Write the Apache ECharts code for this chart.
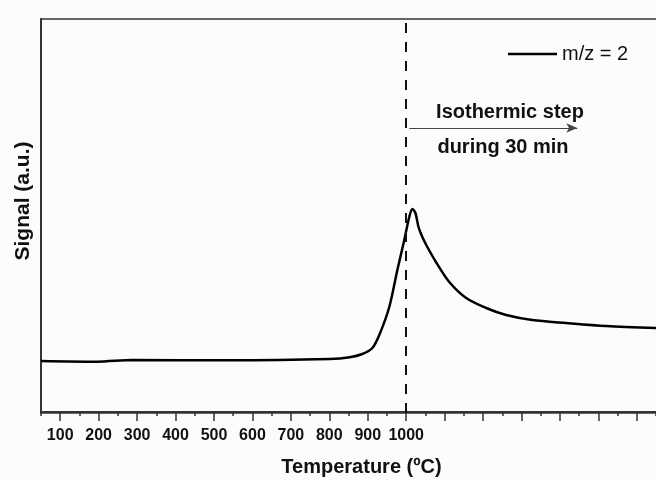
<!DOCTYPE html>
<html>
<head>
<meta charset="utf-8">
<script src="https://cdn.jsdelivr.net/npm/echarts@6/dist/echarts.min.js"></script>
<style>
  html, body { margin: 0; padding: 0; background: #fcfcfc; }
  #main { width: 656px; height: 480px; }
</style>
</head>
<body>
<div id="main"></div>
<script>
'use strict'
// values (signal in arbitrary units)
var temps = [50, 195, 289, 541, 801, 853, 886, 912, 930, 956, 977, 995, 1008, 1016, 1024, 1032, 1042, 1055, 1079, 1112, 1156, 1208, 1260, 1328, 1416, 1520, 1655]
var signal = [51, 50.3, 52, 51.7, 53, 54.7, 58, 64, 77, 105, 142, 172, 195, 203, 199, 185, 175, 165, 149, 130, 114, 104, 97, 92, 89, 86, 84]
var tickLabels = [100, 200, 300, 400, 500, 600, 700, 800, 900, 1000]
var majorTicks = [100, 200, 300, 400, 500, 600, 700, 800, 900, 1000, 1100, 1200, 1300, 1400, 1500, 1600]
var isoStart = 1000
var arrowFrom = 1008, arrowTo = 1445, arrowLevel = 284

var font = 'Liberation Sans, Arial, sans-serif'
var points = []
for (var i = 0; i < temps.length; i++) {
    points.push([temps[i], signal[i]])
}

var myChart = echarts.init(document.getElementById('main'))
var option = {
    backgroundColor: '#fcfcfc',
    animation: false,
    grid: {
        left: 41, right: -2, top: 19, bottom: 67, outerBoundsMode: 'none',
        show: true, borderColor: '#333', borderWidth: 1.5
    },
    legend: {
        left: 508, top: 44, padding: 0,
        itemWidth: 49, itemHeight: 2.5, itemGap: 5,
        textStyle: { fontFamily: font, fontSize: 20, color: '#111' },
        data: [{ name: 'm/z = 2', icon: 'rect' }]
    },
    xAxis: [
        {
            type: 'value', min: 50, max: 1655, interval: 50,
            name: 'Temperature (ºC)', nameLocation: 'middle', nameGap: 44,
            nameTextStyle: { fontFamily: font, fontSize: 20, fontWeight: 'bold', color: '#111', padding: [0, 0, 0, 24] },
            axisLine: { lineStyle: { color: '#333', width: 2 } },
            axisTick: { length: 4, lineStyle: { color: '#333', width: 1.5 } },
            axisLabel: {
                margin: 15, fontFamily: font, fontSize: 16, fontWeight: 'bold', color: '#111',
                formatter: function (v) { return tickLabels.indexOf(v) >= 0 ? String(v) : '' }
            },
            splitLine: { show: false }
        },
        {
            type: 'value', min: 50, max: 1655, position: 'bottom',
            axisLine: { show: false },
            axisTick: { length: 8, customValues: majorTicks, lineStyle: { color: '#333', width: 1.5 } },
            axisLabel: { show: false },
            splitLine: { show: false }
        }
    ],
    yAxis: {
        type: 'value', min: -1, max: 393,
        name: 'Signal (a.u.)', nameLocation: 'middle', nameGap: 7,
        nameTextStyle: { fontFamily: font, fontSize: 21, fontWeight: 'bold', color: '#111', padding: [0, 0, 0, 30] },
        axisLine: { show: true, lineStyle: { color: '#333', width: 2 } },
        axisTick: { show: false },
        axisLabel: { show: false },
        splitLine: { show: false }
    },
    series: [
        {
            name: 'm/z = 2', type: 'line', data: points,
            smooth: 0.3, symbol: 'none',
            lineStyle: { color: '#000', width: 2.5 },
            itemStyle: { color: '#000' },
            markLine: {
                silent: true, symbol: 'none', animation: false,
                label: { show: false },
                data: [
                    { xAxis: isoStart, lineStyle: { color: '#111', width: 2, type: [10, 9] } },
                    [
                        { coord: [arrowFrom, arrowLevel], symbol: 'none' },
                        { coord: [arrowTo, arrowLevel], symbol: 'arrow', symbolSize: [7, 11], lineStyle: { color: '#444', width: 1, type: 'solid' } }
                    ]
                ]
            }
        }
    ],
    graphic: [
        { type: 'text', x: 510, y: 112, style: { text: 'Isothermic step', font: 'bold 20px ' + font, fill: '#111', textAlign: 'center', textVerticalAlign: 'middle' } },
        { type: 'text', x: 503, y: 147, style: { text: 'during 30 min', font: 'bold 20px ' + font, fill: '#111', textAlign: 'center', textVerticalAlign: 'middle' } }
    ]
}
myChart.setOption(option)
</script>
</body>
</html>
